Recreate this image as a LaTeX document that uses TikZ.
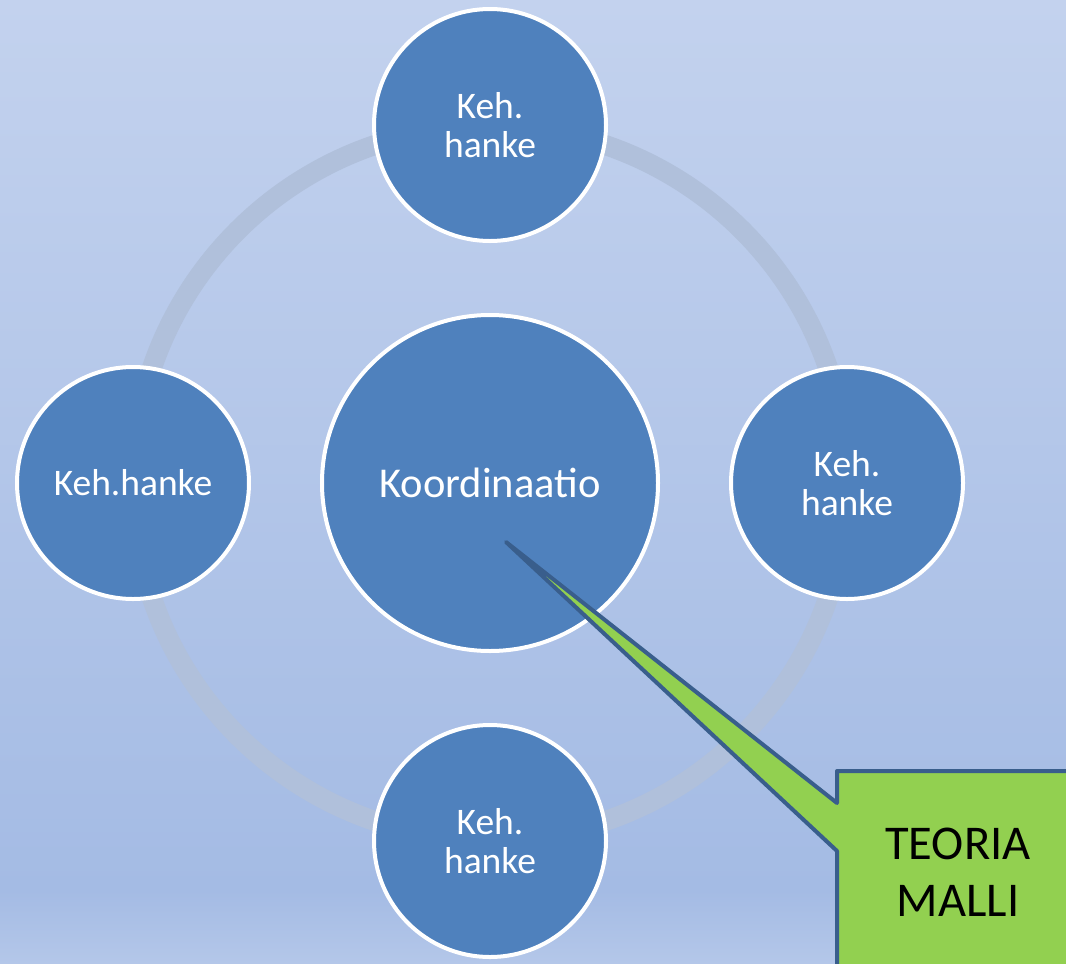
\documentclass[tikz,border=0pt]{standalone}
\usepackage{fontspec}
\setmainfont{Carlito}
\definecolor{bgtop}{RGB}{195,210,238}
\definecolor{bgmid}{RGB}{164,187,228}
\definecolor{bgbot}{RGB}{180,199,233}
\definecolor{ringc}{RGB}{176,192,219}
\definecolor{nodeblue}{RGB}{79,129,189}
\definecolor{callgreen}{RGB}{146,208,80}
\definecolor{callborder}{RGB}{57,94,140}
\tikzset{
  hub/.style={circle, fill=nodeblue, draw=white, line width=4pt, minimum size=336pt, inner sep=0pt,
    text=white, font=\fontsize{42.5}{48}\selectfont, align=center},
  sat/.style={circle, fill=nodeblue, draw=white, line width=4pt, minimum size=232pt, inner sep=0pt,
    text=white, font=\fontsize{37.5}{39}\selectfont, align=center},
  ring/.style={draw=ringc, line width=20pt},
  callout/.style={fill=callgreen, draw=callborder, line width=4pt, line join=round},
  calltext/.style={text=black, font=\fontsize{48.5}{57}\selectfont, align=center}
}
\begin{document}
\begin{tikzpicture}[x=1pt,y=-1pt]
\useasboundingbox (0,0) rectangle (1066,964);
\shade[top color=bgtop, bottom color=bgmid] (0,0) rectangle (1066,890);
\shade[top color=bgmid, bottom color=bgbot] (0,890) rectangle (1066,964);
\coordinate (c) at (490,483);
\draw[ring] (c) circle[radius=357];
\node[hub] (hub) at (c) {Koordinaatio};
\node[sat] (top) at (490,125) {Keh.\\hanke};
\node[sat] (left) at (133,483) {Keh.hanke};
\node[sat] (right) at (847,483) {Keh.\\hanke};
\node[sat] (bottom) at (490,841) {Keh.\\hanke};
\coordinate (tip) at (506,542);
\begin{scope}
\clip (0,0) rectangle (1066,964);
\draw[callout] (tip) -- (837,803) -- (837,771) -- (1075,771) -- (1075,975) -- (837,975) -- (837,851) -- cycle;
\end{scope}
\node[calltext] (teoria) at (958,872) {TEORIA\\MALLI};
\end{tikzpicture}
\end{document}
